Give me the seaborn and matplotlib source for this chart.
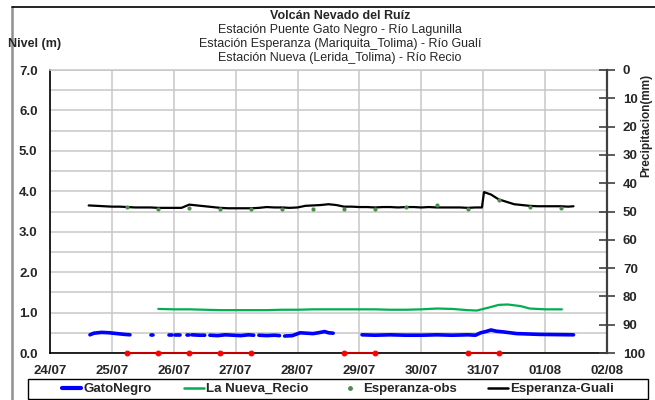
import numpy as np
import pandas as pd
import matplotlib
matplotlib.use("Agg")
import matplotlib.pyplot as plt
from matplotlib.lines import Line2D
import seaborn as sns

# ---------------- data (hours after 24/07 00:00) ----------------
guali_h = [15, 18, 21, 24, 27, 30, 33, 36, 39, 42, 45, 48, 51, 54, 57, 60, 63, 66, 69, 72,
           75, 78, 81, 84, 87, 90, 93, 96, 99, 102, 105, 108, 111, 114, 117, 120, 123, 126,
           129, 132, 135, 138, 141, 144, 147, 150, 153, 156, 159, 162, 165, 167.5, 168.3,
           171, 174, 177, 180, 183, 186, 189, 192, 195, 198, 201, 203]
guali_v = [3.65, 3.64, 3.63, 3.62, 3.62, 3.61, 3.60, 3.60, 3.60, 3.59, 3.59, 3.59, 3.59,
           3.67, 3.65, 3.63, 3.61, 3.59, 3.58, 3.58, 3.58, 3.58, 3.59, 3.61, 3.60, 3.60,
           3.59, 3.60, 3.64, 3.65, 3.66, 3.68, 3.66, 3.62, 3.62, 3.61, 3.61, 3.60, 3.61,
           3.61, 3.60, 3.61, 3.61, 3.60, 3.61, 3.60, 3.60, 3.60, 3.60, 3.59, 3.60, 3.60,
           3.98, 3.92, 3.80, 3.74, 3.68, 3.66, 3.64, 3.63, 3.63, 3.63, 3.63, 3.62, 3.63]

obs_h = [30, 42, 54, 66, 78, 90, 102, 114, 126, 138, 150, 162, 174, 186, 198]
obs_v = [3.60, 3.56, 3.58, 3.56, 3.55, 3.55, 3.55, 3.56, 3.55, 3.61, 3.66, 3.56, 3.79, 3.62, 3.58]

recio_h = [42, 48, 54, 60, 66, 72, 78, 84, 90, 96, 102, 108, 114, 120, 126, 132, 138, 144,
           150, 156, 162, 165.5, 170.5, 174, 177.5, 182.5, 186, 192, 198.5]
recio_v = [1.09, 1.08, 1.08, 1.07, 1.06, 1.06, 1.06, 1.06, 1.07, 1.07, 1.08, 1.08, 1.08,
           1.08, 1.08, 1.07, 1.07, 1.08, 1.10, 1.09, 1.06, 1.05, 1.13, 1.19, 1.20, 1.16,
           1.10, 1.08, 1.08]

# GatoNegro: segment id marks continuous pieces (gaps = missing data)
gato_seg = [1]*7 + [2]*2 + [3]*2 + [4]*2 + [5]*2 + [6]*3 + [7]*7 + [8]*4 + [9]*9 + [10]*17
gato_h = [15.5, 17, 20, 23, 26, 29, 31,
          39, 40,
          46, 47.5,
          48.5, 50.5,
          53, 54,
          55, 58, 60,
          62, 65, 68, 71, 74, 77, 79,
          81, 84, 87, 89,
          91, 94, 97, 99.5, 102, 104, 106.5, 108, 109.8,
          121, 126, 132, 138, 144, 150, 156, 162, 165, 167, 169, 171, 173, 176, 181, 190, 203]
gato_v = [0.45, 0.49, 0.51, 0.50, 0.48, 0.46, 0.45,
          0.44, 0.44,
          0.44, 0.44,
          0.45, 0.45,
          0.44, 0.44,
          0.45, 0.44, 0.44,
          0.44, 0.43, 0.45, 0.44, 0.43, 0.45, 0.44,
          0.44, 0.43, 0.44, 0.43,
          0.42, 0.43, 0.50, 0.49, 0.48, 0.50, 0.53, 0.50, 0.49,
          0.45, 0.44, 0.45, 0.44, 0.44, 0.45, 0.44, 0.45, 0.44, 0.50, 0.53, 0.57, 0.54,
          0.52, 0.48, 0.46, 0.45]

# Observed-precipitation markers (level 0) in three pieces
rain_seg = [1, 1, 1, 1, 1, 2, 2, 3, 3]
rain_h = [30, 42, 54, 66, 78, 114, 126, 162, 174]
rain_v = [0, 0, 0, 0, 0, 0, 0, 0, 0]

x_labels = ["24/07", "25/07", "26/07", "27/07", "28/07", "29/07", "30/07", "31/07", "01/08", "02/08"]

# ---------------- build frames ----------------
t0 = pd.Timestamp("2012-07-24")
def to_time(h):
    return t0 + pd.to_timedelta(np.asarray(h, dtype=float), unit="h")

df_guali = pd.DataFrame({"t": to_time(guali_h), "v": guali_v})
df_obs = pd.DataFrame({"t": to_time(obs_h), "v": obs_v})
df_recio = pd.DataFrame({"t": to_time(recio_h), "v": recio_v})
df_gato = pd.DataFrame({"t": to_time(gato_h), "v": gato_v, "seg": gato_seg})
df_rain = pd.DataFrame({"t": to_time(rain_h), "v": rain_v, "seg": rain_seg})

# ---------------- figure ----------------
sns.set_theme(style="white")
plt.rcParams["font.family"] = ["Liberation Sans", "DejaVu Sans"]

W, H = 655, 400
fig = plt.figure(figsize=(W / 100, H / 100), dpi=100)
fig.patch.set_facecolor("white")
ax = fig.add_axes([50 / W, 1 - 353 / H, (607 - 50) / W, (353 - 70) / H])

c_blue = "#0000ff"
c_green = "#00b050"
c_black = "#000000"
c_obs = "#4f8a4f"
c_red = "#c00000"

sns.lineplot(data=df_gato, x="t", y="v", units="seg", estimator=None, color=c_blue,
             linewidth=2.6, ax=ax, zorder=4)
sns.lineplot(data=df_recio, x="t", y="v", estimator=None, color=c_green, linewidth=1.6,
             ax=ax, zorder=4)
sns.lineplot(data=df_guali, x="t", y="v", estimator=None, color=c_black, linewidth=1.6,
             ax=ax, zorder=5)
sns.scatterplot(data=df_obs, x="t", y="v", color=c_obs, s=9, linewidth=0, ax=ax, zorder=6)
sns.lineplot(data=df_rain, x="t", y="v", units="seg", estimator=None, color=c_red,
             linewidth=1.5, marker="o", markersize=3.5, markerfacecolor="#ff0000",
             markeredgecolor="#ff0000", ax=ax, zorder=7, clip_on=False)

# axes limits / ticks
ax.set_xlim(t0, t0 + pd.Timedelta(days=9))
ax.set_ylim(0, 7)
xt = [t0 + pd.Timedelta(days=i) for i in range(10)]
ax.set_xticks(xt)
ax.set_xticklabels(x_labels)
ax.set_yticks(np.arange(0, 7.01, 1.0))
ax.set_yticklabels([f"{v:.1f}" for v in np.arange(0, 7.01, 1.0)])
ax.set_yticks(np.arange(0.5, 7, 1.0), minor=True)
ax.grid(True, which="major", axis="both", color="#c8c8c8", linewidth=1.1)
ax.grid(True, which="minor", axis="y", color="#c8c8c8", linewidth=1.1)
ax.set_axisbelow(True)
ax.tick_params(axis="both", which="both", length=0)
ax.tick_params(axis="y", pad=9, labelsize=9.5)
ax.tick_params(axis="x", pad=9, labelsize=9.5)
for lab in ax.get_xticklabels() + ax.get_yticklabels():
    lab.set_fontweight("bold")
ax.set_xlabel("")
ax.set_ylabel("")
ax.spines["left"].set_color("black")
ax.spines["left"].set_linewidth(1.2)
ax.spines["bottom"].set_color("black")
ax.spines["bottom"].set_linewidth(1.2)
ax.spines["top"].set_color("#c8c8c8")
ax.spines["top"].set_linewidth(1.1)
ax.spines["right"].set_visible(False)

# right axis (precipitation, inverted)
ax2 = ax.twinx()
ax2.set_ylim(100, 0)
ax2.set_yticks(np.arange(0, 101, 10))
ax2.set_yticklabels([str(v) for v in range(0, 101, 10)])
ax2.tick_params(axis="y", direction="inout", length=11, width=1.2, color="#404040",
                pad=6, labelsize=9.5)
for lab in ax2.get_yticklabels():
    lab.set_fontweight("bold")
for s in ["left", "top", "bottom"]:
    ax2.spines[s].set_visible(False)
ax2.spines["right"].set_color("#404040")
ax2.spines["right"].set_linewidth(1.6)
ax2.grid(False)

# texts
fig.text(340 / W, 1 - 16 / H, "Volcán Nevado del Ruíz", ha="center", va="center",
         fontsize=9, fontweight="bold")
fig.text(340 / W, 1 - 30 / H, "Estación Puente Gato Negro - Río Lagunilla", ha="center",
         va="center", fontsize=9)
fig.text(340 / W, 1 - 44 / H, "Estación Esperanza (Mariquita_Tolima) - Río Gualí",
         ha="center", va="center", fontsize=9)
fig.text(340 / W, 1 - 58 / H, "Estación Nueva (Lerida_Tolima) - Río Recio", ha="center",
         va="center", fontsize=9)
fig.text(8 / W, 1 - 44 / H, "Nivel (m)", ha="left", va="center", fontsize=9,
         fontweight="bold")
fig.text(646 / W, 1 - 125 / H, "Precipitacion(mm)", ha="center", va="center",
         rotation=90, fontsize=8.5, fontweight="bold")

# outer chart frame
fig.add_artist(Line2D([12 / W, 12 / W], [0, 1 - 7 / H], transform=fig.transFigure,
                      color="#909090", linewidth=1.8))
fig.add_artist(Line2D([12 / W, 1], [1 - 7 / H, 1 - 7 / H], transform=fig.transFigure,
                      color="#000000", linewidth=1.2))

# legend
handles = [
    Line2D([], [], color=c_blue, linewidth=3),
    Line2D([], [], color=c_green, linewidth=1.8),
    Line2D([], [], color=c_obs, linestyle="none", marker="o", markersize=2.5),
    Line2D([], [], color=c_black, linewidth=1.8),
]
labels = ["GatoNegro", "La Nueva_Recio", "Esperanza-obs", "Esperanza-Guali"]
leg = fig.legend(handles, labels, loc="center", ncol=4,
                 bbox_to_anchor=(28 / W, 1 / H, (648 - 28) / W, 20 / H),
                 frameon=False, fontsize=9.5,
                 handlelength=1.5, handletextpad=0.2, columnspacing=2.4,
                 borderpad=0.1, borderaxespad=0)
for t in leg.get_texts():
    t.set_fontweight("bold")
# legend frame box spanning the chart width
fig.add_artist(plt.Rectangle((28 / W, 1 / H), (648 - 28) / W, 20 / H,
                             transform=fig.transFigure, fill=False,
                             edgecolor="black", linewidth=1.0))

fig.savefig("out.png", dpi=100)
